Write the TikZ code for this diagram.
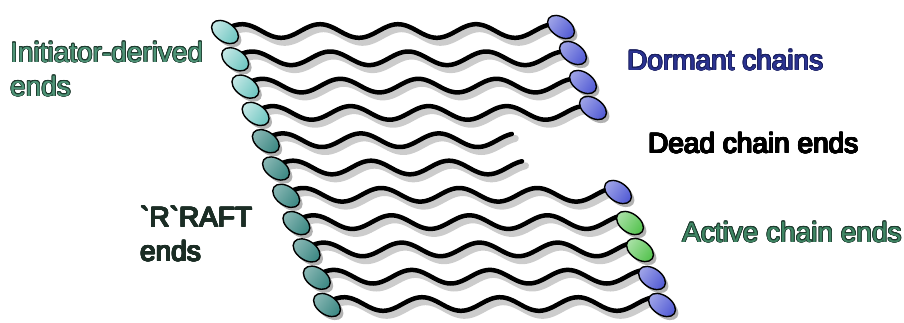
\documentclass[tikz,border=0pt]{standalone}
\usepackage{fontspec}
\usepackage{xcolor}
\usepackage[copies]{contour}
\usepackage{tikz}
\usetikzlibrary{shapes.geometric,shadows,backgrounds}
\newfontfamily\labfont{Liberation Sans}
\definecolor{inicol}{HTML}{6CC5C0}
\definecolor{raftcol}{HTML}{3A8782}
\definecolor{dormcol}{HTML}{5059D4}
\definecolor{actcol}{HTML}{52C24C}
\definecolor{initxt}{HTML}{4E9477}
\definecolor{inidark}{HTML}{1E3A2E}
\definecolor{rafttxt}{HTML}{1B2D25}
\definecolor{dormtxt}{HTML}{2B3391}
\definecolor{dormdark}{HTML}{1A1F5E}
\definecolor{acttxt}{HTML}{3F8664}
\contourlength{0.7pt}
\newcommand{\outl}[2]{\contour{#1}{#2}}

\begin{document}
\begin{tikzpicture}[x=1pt,y=-1pt,
bead/.style={ellipse,draw=black,line width=1.4pt,minimum width=30pt,minimum height=19pt,inner sep=0pt,rotate=-35,
  drop shadow={shadow xshift=3pt,shadow yshift=-3.5pt,opacity=.3,fill=black}},
inibead/.style={bead,top color=inicol!40!white,bottom color=inicol,shading angle=55},
raftbead/.style={bead,top color=raftcol!60!white,bottom color=raftcol,shading angle=55},
dormbead/.style={bead,top color=dormcol!55!white,bottom color=dormcol,shading angle=55},
actbead/.style={bead,top color=actcol!50!white,bottom color=actcol,shading angle=55},
chain/.style={line width=4.5pt,line cap=round},
chainshadow/.style={black,opacity=.2,line width=7pt,line cap=round},
lab/.style={font=\labfont\fontsize{28}{34}\selectfont,anchor=base west,inner sep=0pt,align=left}]
\useasboundingbox (0,0) rectangle (904,322);
% left ends
\foreach \i in {0,...,3}{\node[inibead] (l\i) at (225+10.2*\i,32+27.3*\i) {};}
\foreach \i in {4,...,10}{\node[raftbead] (l\i) at (225+10.2*\i,32+27.3*\i) {};}
% right ends
\foreach \i/\x/\y/\s in {0/561/27/dormbead,1/573/53/dormbead,2/583/82/dormbead,3/593/108/dormbead,
  6/618/192/dormbead,7/630/223/actbead,8/640/250/actbead,9/652/278/dormbead,10/662/305/dormbead}
  {\node[\s] (r\i) at (\x,\y) {};}
% chains (wave starts under l_i, ends under r_i or free for dead ones)
\begin{scope}[on background layer]
\foreach \i/\len in {0/324,1/326,2/326,3/325,4/246,5/246,6/320,7/322,8/321,9/323,10/323}
  {\draw[chainshadow,shift={(l\i.center)},shift={(3.5,4.5)}] plot[domain=-4:\len,samples=120,variable=\t] (\t,{-1-6.8*cos(4.6154*(\t-17))});}
\foreach \i/\len in {0/324,1/326,2/326,3/325,4/246,5/246,6/320,7/322,8/321,9/323,10/323}
  {\draw[chain,shift={(l\i.center)}] plot[domain=-4:\len,samples=120,variable=\t] (\t,{-1-6.8*cos(4.6154*(\t-17))});}
\end{scope}
% labels
\node[lab,initxt] (ini) at (10,96) {\outl{inidark}{Initiator-derived}\\\outl{inidark}{ends}};
\node[lab,rafttxt] (raft) at (140,261) {\outl{rafttxt}{`R`RAFT}\\\outl{rafttxt}{ends}};
\node[lab,dormtxt] (dorm) at (627,70) {\outl{dormdark}{Dormant chains}};
\node[lab,black] (dead) at (648,153) {\outl{black}{Dead chain ends}};
\node[lab,acttxt] (act) at (682,242) {\outl{inidark}{Active chain ends}};
\end{tikzpicture}
\end{document}
